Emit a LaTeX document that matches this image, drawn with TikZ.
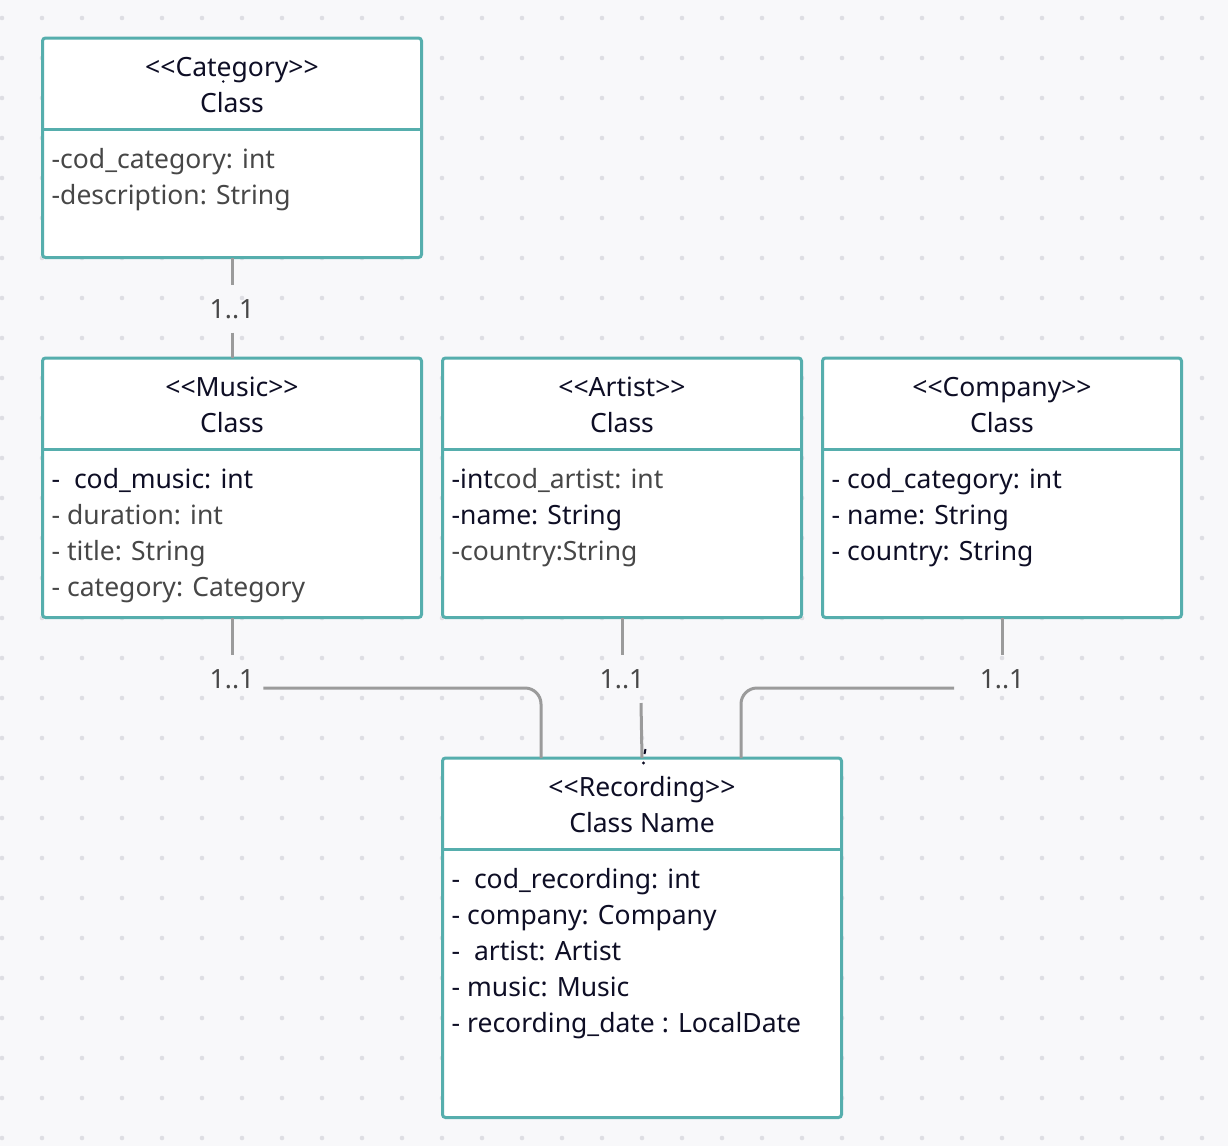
\documentclass[tikz,border=0pt]{standalone}
\usepackage{fontspec}
\setmainfont{Noto Sans}[Ligatures=TeXOff]
\usetikzlibrary{calc}
\definecolor{bg}{HTML}{F8F8FA}
\definecolor{dotc}{HTML}{DEDEE3}
\definecolor{boxc}{HTML}{56AEAD}
\definecolor{ink}{HTML}{0E0E25}
\definecolor{grayt}{HTML}{474747}
\definecolor{connc}{HTML}{9B9B9B}
\begin{document}
\begin{tikzpicture}[x=1pt,y=-1pt,
  classbox/.style={draw=boxc, fill=white, line width=3pt, rounded corners=3pt, outer sep=0pt, inner sep=0pt},
  divider/.style={draw=boxc, line width=3pt},
  txtfont/.style={font=\fontsize{26.5}{36}\selectfont},
  hdr/.style={txtfont, inner sep=0pt, anchor=base, text=ink},
  attr/.style={txtfont, inner sep=0pt, anchor=base west, text=ink},
  dim/.style={text=grayt},
  mult/.style={txtfont, inner xsep=9pt, inner ysep=14pt, anchor=base, text=grayt},
  connector/.style={draw=connc, line width=3pt},
]
\useasboundingbox (0,0) rectangle (1228,1146);
\fill[bg] (0,0) rectangle (1228,1146);
\foreach \i in {0,...,30} \foreach \j in {0,...,28} \fill[dotc] (2+40*\i, 18+40*\j) circle (2.3);

% boxes
\node[classbox, minimum width=379pt, minimum height=219.5pt] (cat) at (232,147.75) {};
\node[classbox, minimum width=379pt, minimum height=259.5pt] (mus) at (232,487.75) {};
\node[classbox, minimum width=359pt, minimum height=259.5pt] (art) at (622,487.75) {};
\node[classbox, minimum width=359pt, minimum height=259.5pt] (com) at (1002,487.75) {};
\node[classbox, minimum width=399pt, minimum height=359.5pt] (rec) at (642,937.75) {};
\foreach \b in {cat,mus,art,com,rec}
  \draw[divider] ($(\b.north west)+(0,91.5)$) -- ($(\b.north east)+(0,91.5)$);

% Category
\node[hdr] (catS) at (232,76) {<<Category>>};
\node[hdr] (catC) at (232,112) {Class};
\node[attr, dim] (cat1) at (51.5,168) {-cod\_category: int};
\node[attr, dim] (cat2) at (51.5,204) {-description: String};

% Music
\node[hdr] (musS) at (232,396) {<<Music>>};
\node[hdr] (musC) at (232,432) {Class};
\node[attr] (mus1) at (51.5,488) {-\ \ cod\_music: int};
\node[attr, dim] (mus2) at (51.5,524) {- duration: int};
\node[attr, dim] (mus3) at (51.5,560) {- title: String};
\node[attr, dim] (mus4) at (51.5,596) {- category: Category};

% Artist
\node[hdr] (artS) at (622,396) {<<Artist>>};
\node[hdr] (artC) at (622,432) {Class};
\node[attr] (art1) at (451.5,488) {-int{\color{grayt}cod\_artist: int}};
\node[attr] (art2) at (451.5,524) {-name: String};
\node[attr, dim] (art3) at (451.5,560) {-country:String};

% Company
\node[hdr] (comS) at (1002,396) {<<Company>>};
\node[hdr] (comC) at (1002,432) {Class};
\node[attr] (com1) at (831.5,488) {- cod\_category: int};
\node[attr] (com2) at (831.5,524) {- name: String};
\node[attr] (com3) at (831.5,560) {- country: String};

% Recording
\node[hdr] (recS) at (642,796) {<<Recording>>};
\node[hdr] (recC) at (642,832) {Class Name};
\node[attr] (rec1) at (451.5,888) {-\ \ cod\_recording: int};
\node[attr] (rec2) at (451.5,924) {- company: Company};
\node[attr] (rec3) at (451.5,960) {-\ \ artist: Artist};
\node[attr] (rec4) at (451.5,996) {- music: Music};
\node[attr] (rec5) at (451.5,1032) {- recording\_date : LocalDate};

% multiplicity labels
\node[mult] (l1) at (232,318) {1..1};
\node[mult] (l2) at (232,688) {1..1};
\node[mult] (l3) at (622,688) {1..1};
\node[mult] (l4) at (1002,688) {1..1};

% connector end points
\coordinate (r1) at (541,758);
\coordinate (r2) at (642,758);
\coordinate (r3) at (741,758);
\coordinate (a3) at (641,703);
\coordinate (c4) at (954,688);

% connectors
\draw[connector] (cat.south) -- (l1.north);
\draw[connector] (l1.south) -- (mus.north);
\draw[connector] (mus.south) -- (l2.north);
\draw[connector] (art.south) -- (l3.north);
\draw[connector] (com.south) -- (l4.north);
\draw[connector, rounded corners=16pt] (l2.base east) -| (r1);
\draw[connector] (a3) -- (r2);
\draw[connector, rounded corners=16pt] (c4) -| (r3);

% small marks
\fill[ink] (223.3,81.5) circle (1.4);
\fill[ink] (643.5,763) circle (1.7);
\draw[ink, line width=2pt] (645.5,749) -- (644.5,754);
\end{tikzpicture}
\end{document}
